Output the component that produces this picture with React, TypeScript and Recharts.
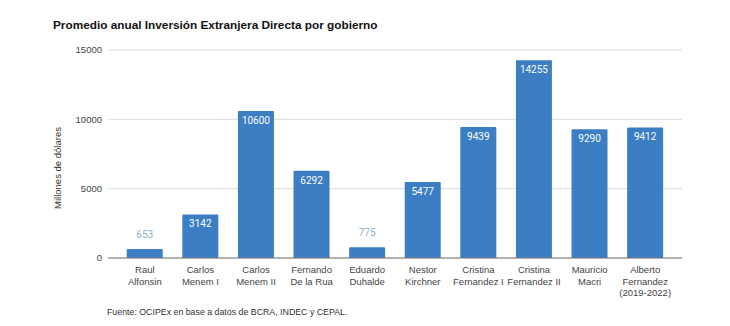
import React from 'react';
import { BarChart, Bar, XAxis, YAxis, CartesianGrid, LabelList } from 'recharts';

const categories = [
  'Raul\nAlfonsin',
  'Carlos\nMenem I',
  'Carlos\nMenem II',
  'Fernando\nDe la Rua',
  'Eduardo\nDuhalde',
  'Nestor\nKirchner',
  'Cristina\nFernandez I',
  'Cristina\nFernandez II',
  'Mauricio\nMacri',
  'Alberto\nFernandez\n(2019-2022)',
];
const values = [653, 3142, 10600, 6292, 775, 5477, 9439, 14255, 9290, 9412];
const yTicks = [0, 5000, 10000, 15000];

const data = categories.map((c, i) => ({ name: c, value: values[i] }));

const AXIS_FONT = '"Liberation Sans", Arial, sans-serif';

const XTick = (props: any) => {
  const { x, y, payload } = props;
  const lines = String(payload.value).split('\n');
  return (
    <g>
      {lines.map((l, i) => (
        <text
          key={i}
          x={x}
          y={y + 7 + i * 11.5}
          textAnchor="middle"
          fill="#444"
          fontSize={9.5}
          fontFamily={AXIS_FONT}
        >
          {l}
        </text>
      ))}
    </g>
  );
};

const ValueLabel = (props: any) => {
  const { x, y, width, height, value } = props;
  const cx = x + width / 2;
  if (height < 20) {
    return (
      <text x={cx} y={y - 11} textAnchor="middle" fill="#8aaecb" fontSize={10} fontFamily="Roboto, sans-serif">
        {value}
      </text>
    );
  }
  return (
    <text x={cx} y={y + 13} textAnchor="middle" fill="#ffffff" fontSize={10} fontFamily="Roboto, sans-serif">
      {value}
    </text>
  );
};

export default function App() {
  return (
    <div style={{ position: 'absolute', left: 0, top: 0, width: 730, height: 326, background: '#fff' }}>
      <div
        style={{
          position: 'absolute',
          left: 53,
          top: 17,
          fontFamily: AXIS_FONT,
          fontWeight: 'bold',
          fontSize: 11.8,
          color: '#111',
          whiteSpace: 'nowrap',
          lineHeight: '16px',
        }}
      >
        Promedio anual Inversión Extranjera Directa por gobierno
      </div>
      <div
        style={{
          position: 'absolute',
          left: 107,
          top: 306,
          fontFamily: AXIS_FONT,
          fontSize: 8.8,
          color: '#333',
          whiteSpace: 'nowrap',
          lineHeight: '12px',
        }}
      >
        Fuente: OCIPEx en base a datos de BCRA, INDEC y CEPAL.
      </div>
      <BarChart
        width={730}
        height={326}
        data={data}
        margin={{ top: 50, right: 48, bottom: 0, left: 0 }}
        barCategoryGap="17.5%"
      >
        <CartesianGrid vertical={false} stroke="#dcdcdc" />
        <XAxis
          dataKey="name"
          interval={0}
          tick={<XTick />}
          tickLine={false}
          axisLine={{ stroke: '#777' }}
          padding={{ left: 9, right: 9 }}
          height={68}
        />
        <YAxis
          width={108}
          domain={[0, 15000]}
          ticks={yTicks}
          tickLine={false}
          axisLine={false}
          tickSize={0}
          tickMargin={6}
          tick={{ fill: '#444', fontSize: 9.5, fontFamily: AXIS_FONT }}
          label={{
            content: () => (
              <text
                x={57}
                y={168}
                transform="rotate(-90 57 168)"
                textAnchor="middle"
                dominantBaseline="central"
                fill="#333"
                fontSize={9.5}
                fontFamily={AXIS_FONT}
              >
                Millones de dólares
              </text>
            ),
          }}
        />
        <Bar dataKey="value" fill="#3b7ec3" radius={[1, 1, 0, 0]} isAnimationActive={false}>
          <LabelList dataKey="value" content={<ValueLabel />} />
        </Bar>
      </BarChart>
    </div>
  );
}
